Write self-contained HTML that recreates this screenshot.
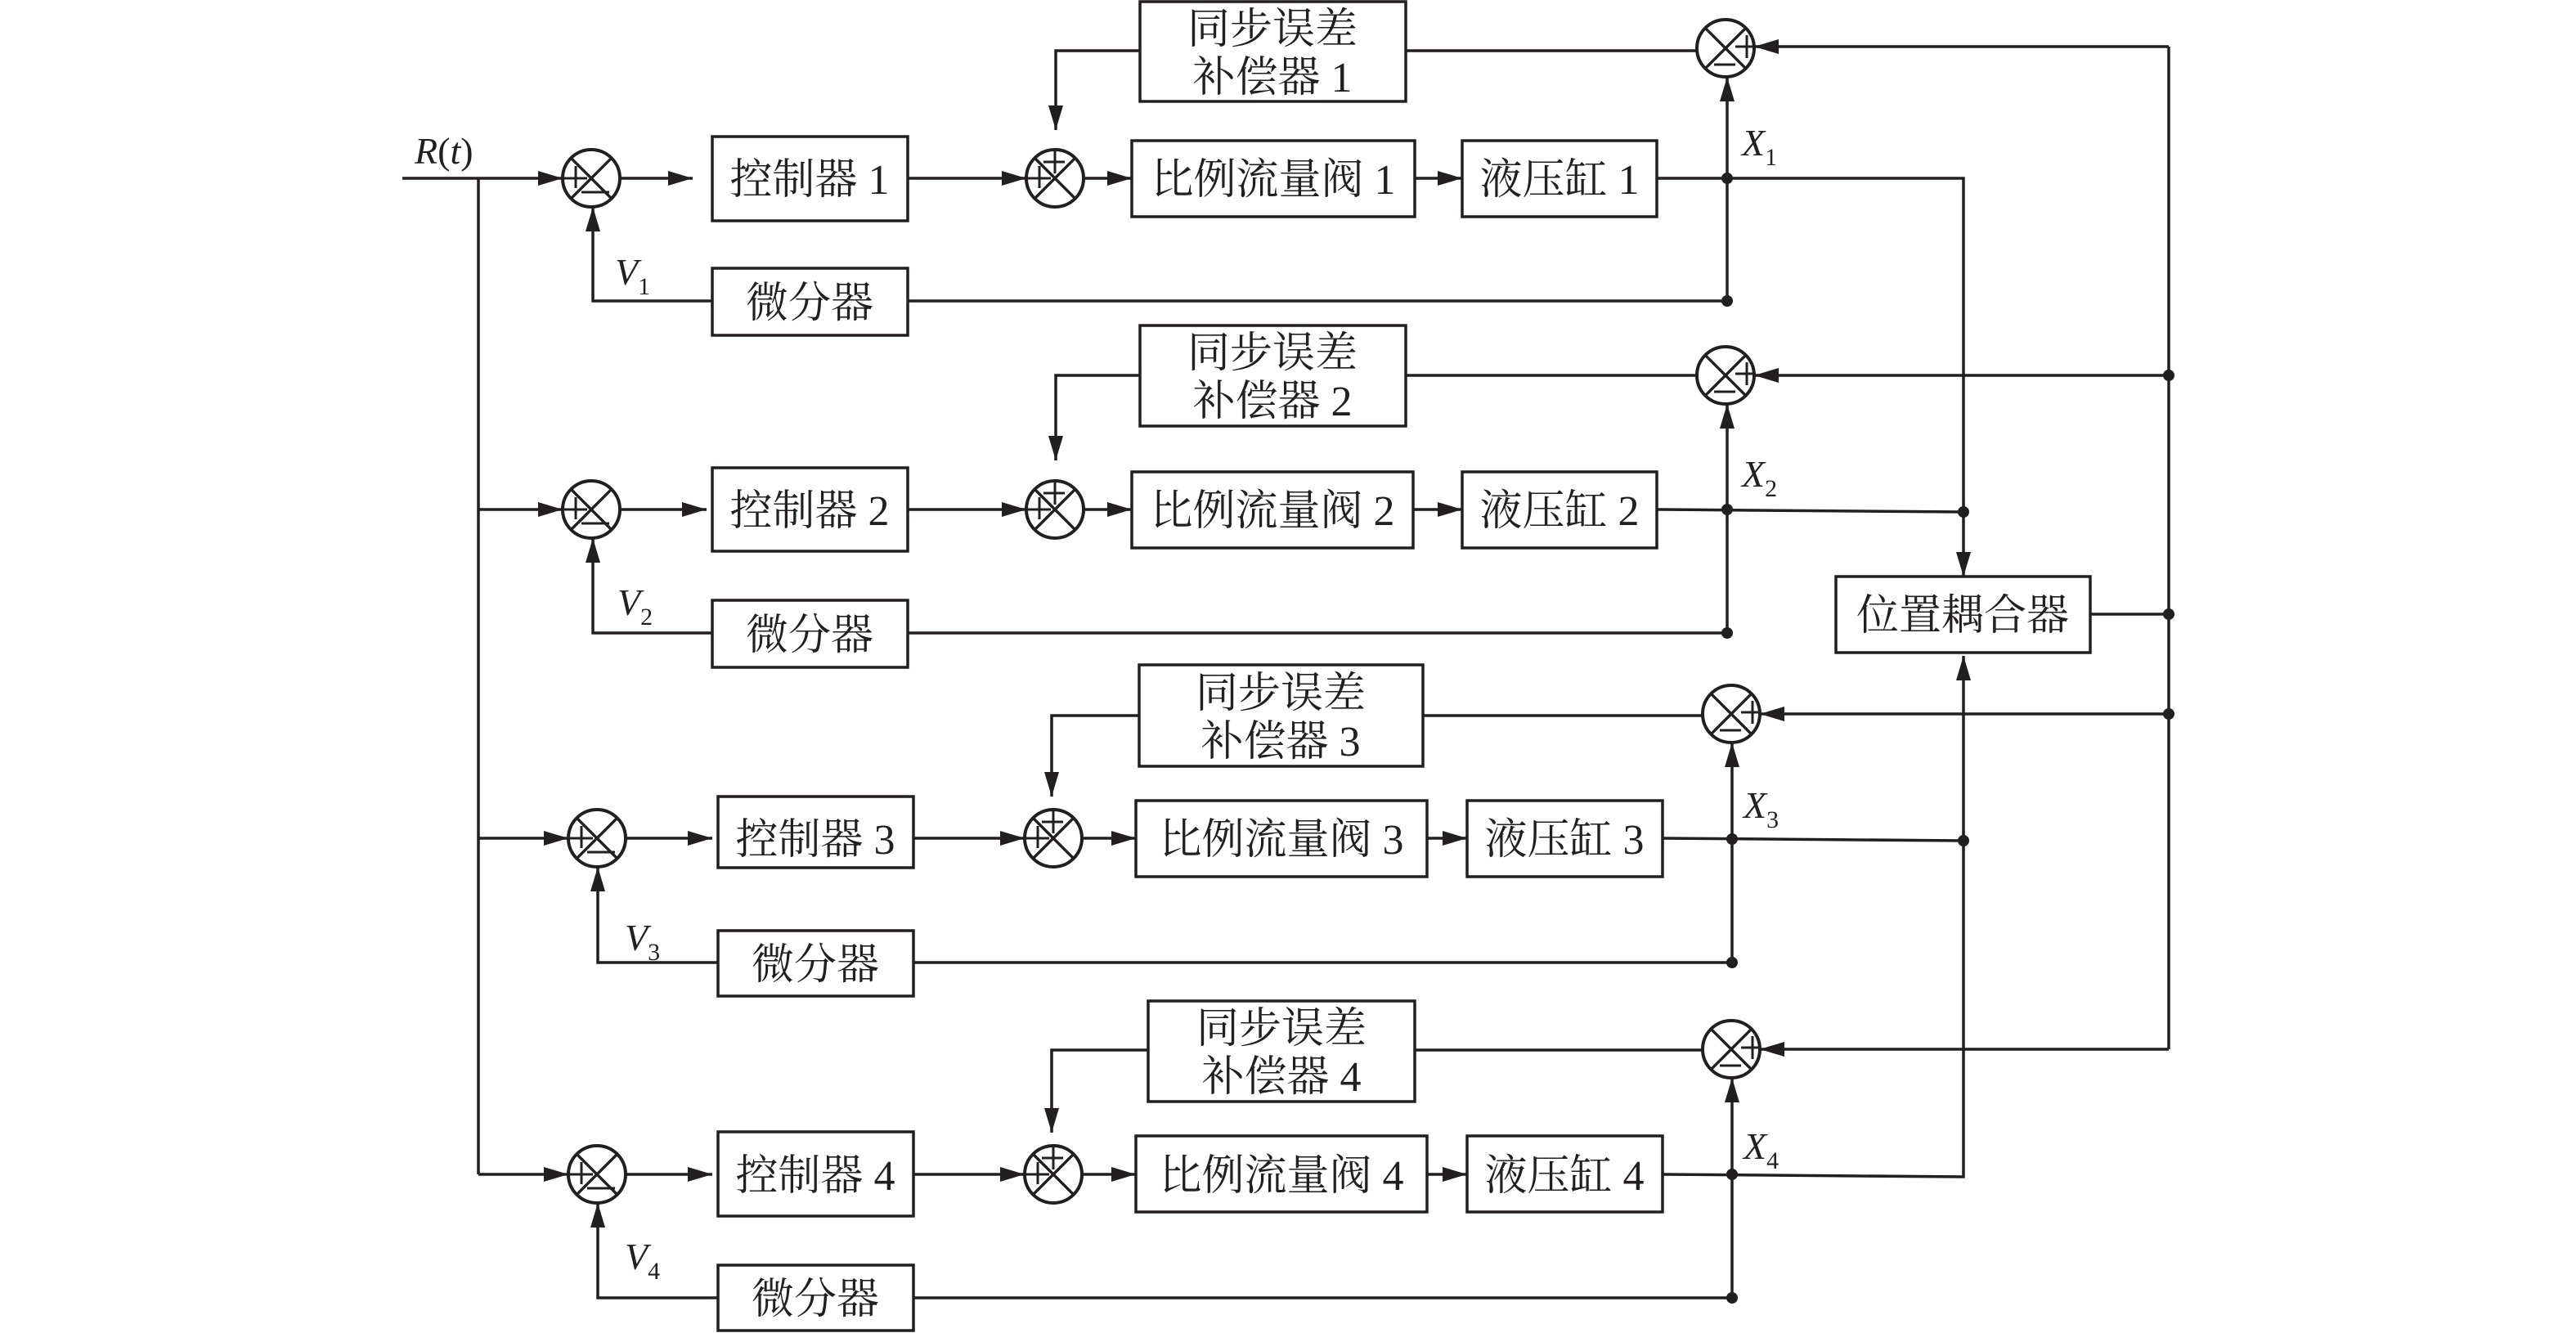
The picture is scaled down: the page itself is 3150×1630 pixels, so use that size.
<!DOCTYPE html>
<html><head><meta charset="utf-8"><style>
html,body{margin:0;padding:0;background:#fff;}
svg{display:block;}
.t{font-family:"Liberation Serif","Noto Serif CJK SC",serif;font-size:52px;fill:#231f20;text-anchor:middle;}
.i{font-family:"Liberation Serif",serif;font-style:italic;font-size:46px;fill:#231f20;}
.s{font-family:"Liberation Serif",serif;font-style:normal;font-size:30px;fill:#231f20;}
</style></head><body>
<svg width="3150" height="1630" viewBox="0 0 3150 1630" xmlns="http://www.w3.org/2000/svg">
<defs>
<marker id="a" markerWidth="30" markerHeight="18" refX="30" refY="9" orient="auto" markerUnits="userSpaceOnUse"><path d="M0,0 L30,9 L0,18 z" fill="#231f20"/></marker>
<g id="cx"><circle r="35" fill="#fff" stroke="#231f20" stroke-width="4"/><path d="M-24.7,-24.7L24.7,24.7M24.7,-24.7L-24.7,24.7" stroke="#231f20" stroke-width="3.5"/></g>
<g id="s1"><use href="#cx"/><path d="M-35,0H-5M-19,-15V12M-12,17H22" stroke="#231f20" stroke-width="3"/></g>
<g id="s2"><use href="#cx"/><path d="M-35,0H-5M-19,-15V12M-14,-20H12M0,-35V-6" stroke="#231f20" stroke-width="3"/></g>
<g id="s3"><use href="#cx"/><path d="M12,-2H35M26,-16V12M-14,20H12" stroke="#231f20" stroke-width="3"/></g>
</defs>
<g fill="none" stroke="#231f20" stroke-width="3.5">
<rect x="871" y="167" width="239" height="103"/>
<rect x="871" y="328" width="239" height="82"/>
<rect x="1394" y="2" width="325" height="122"/>
<rect x="1384" y="172" width="346" height="93"/>
<rect x="1788" y="172" width="238" height="93"/>

<rect x="871" y="572" width="239" height="102"/>
<rect x="871" y="734" width="239" height="82"/>
<rect x="1394" y="398" width="325" height="123"/>
<rect x="1384" y="577" width="344" height="93"/>
<rect x="1788" y="577" width="238" height="93"/>

<rect x="878" y="974" width="239" height="87"/>
<rect x="878" y="1138" width="239" height="80"/>
<rect x="1393" y="813" width="347" height="124"/>
<rect x="1389" y="979" width="356" height="93"/>
<rect x="1794" y="979" width="239" height="93"/>

<rect x="878" y="1384" width="239" height="103"/>
<rect x="878" y="1547" width="239" height="80"/>
<rect x="1404" y="1224" width="326" height="123"/>
<rect x="1389" y="1389" width="356" height="93"/>
<rect x="1794" y="1389" width="239" height="93"/>

<rect x="2245" y="705" width="311" height="93"/>
</g>
<g fill="none" stroke="#231f20" stroke-width="3.5">
<path d="M492,218H688" marker-end="url(#a)"/>
<path d="M585,218V1436"/>
<path d="M585,623H688" marker-end="url(#a)"/>
<path d="M585,1025H695" marker-end="url(#a)"/>
<path d="M585,1436H695" marker-end="url(#a)"/>
<path d="M758,218H847" marker-end="url(#a)"/>
<path d="M1110,218H1255" marker-end="url(#a)"/>
<path d="M1325,218H1384" marker-end="url(#a)"/>
<path d="M1730,218H1788" marker-end="url(#a)"/>
<path d="M1394,62H1291V159" marker-end="url(#a)"/>
<path d="M1719,62H2075"/>
<path d="M871,368H725V253" marker-end="url(#a)"/>
<path d="M1110,368H2112V94" marker-end="url(#a)"/>
<path d="M2026,218H2401V705" marker-end="url(#a)"/>
<path d="M758,623H864" marker-end="url(#a)"/>
<path d="M1110,623H1255" marker-end="url(#a)"/>
<path d="M1325,623H1384" marker-end="url(#a)"/>
<path d="M1728,623H1788" marker-end="url(#a)"/>
<path d="M1394,459H1291V563" marker-end="url(#a)"/>
<path d="M1719,459H2075"/>
<path d="M871,774H725V658" marker-end="url(#a)"/>
<path d="M1110,774H2112V494" marker-end="url(#a)"/>
<path d="M2026,623L2401,626"/>
<path d="M765,1025H871" marker-end="url(#a)"/>
<path d="M1117,1025H1253" marker-end="url(#a)"/>
<path d="M1323,1025H1389" marker-end="url(#a)"/>
<path d="M1745,1025H1794" marker-end="url(#a)"/>
<path d="M1393,875H1286V974" marker-end="url(#a)"/>
<path d="M1740,875H2082"/>
<path d="M878,1177H731V1060" marker-end="url(#a)"/>
<path d="M1117,1177H2118V908" marker-end="url(#a)"/>
<path d="M2033,1025L2401,1028"/>
<path d="M765,1436H871" marker-end="url(#a)"/>
<path d="M1117,1436H1253" marker-end="url(#a)"/>
<path d="M1323,1436H1389" marker-end="url(#a)"/>
<path d="M1745,1436H1794" marker-end="url(#a)"/>
<path d="M1404,1284H1286V1385" marker-end="url(#a)"/>
<path d="M1730,1284H2082"/>
<path d="M878,1587H731V1471" marker-end="url(#a)"/>
<path d="M1117,1587H2118V1318" marker-end="url(#a)"/>
<path d="M2033,1436L2401,1439V802" marker-end="url(#a)"/>
<path d="M2652,57V1283"/>
<path d="M2652,57H2145" marker-end="url(#a)"/>
<path d="M2652,459H2145" marker-end="url(#a)"/>
<path d="M2652,873H2152" marker-end="url(#a)"/>
<path d="M2652,1283H2152" marker-end="url(#a)"/>
<path d="M2556,751H2652"/>
</g>
<use href="#s1" x="723" y="218"/>
<use href="#s1" x="723" y="623"/>
<use href="#s1" x="730" y="1025"/>
<use href="#s1" x="730" y="1436"/>
<use href="#s2" x="1290" y="218"/>
<use href="#s2" x="1290" y="623"/>
<use href="#s2" x="1288" y="1025"/>
<use href="#s2" x="1288" y="1436"/>
<use href="#s3" x="2110" y="59"/>
<use href="#s3" x="2110" y="459"/>
<use href="#s3" x="2117" y="873"/>
<use href="#s3" x="2117" y="1283"/>
<g fill="#231f20">
<circle cx="2112" cy="218" r="7"/><circle cx="2112" cy="368" r="7"/>
<circle cx="2112" cy="623" r="7"/><circle cx="2112" cy="774" r="7"/>
<circle cx="2118" cy="1026" r="7"/><circle cx="2118" cy="1177" r="7"/>
<circle cx="2118" cy="1436" r="7"/><circle cx="2118" cy="1587" r="7"/>
<circle cx="2401" cy="626" r="7"/><circle cx="2401" cy="1028" r="7"/>
<circle cx="2652" cy="459" r="7"/><circle cx="2652" cy="751" r="7"/><circle cx="2652" cy="873" r="7"/>
</g>
<text class="t" x="990" y="237">控制器 1</text>
<text class="t" x="990" y="388">微分器</text>
<text class="t" x="1556" y="53">同步误差</text>
<text class="t" x="1556" y="112">补偿器 1</text>
<text class="t" x="1557" y="237">比例流量阀 1</text>
<text class="t" x="1907" y="237">液压缸 1</text>

<text class="t" x="990" y="642">控制器 2</text>
<text class="t" x="990" y="794">微分器</text>
<text class="t" x="1556" y="449">同步误差</text>
<text class="t" x="1556" y="508">补偿器 2</text>
<text class="t" x="1556" y="642">比例流量阀 2</text>
<text class="t" x="1907" y="642">液压缸 2</text>

<text class="t" x="997" y="1044">控制器 3</text>
<text class="t" x="997" y="1197">微分器</text>
<text class="t" x="1566" y="865">同步误差</text>
<text class="t" x="1566" y="924">补偿器 3</text>
<text class="t" x="1567" y="1044">比例流量阀 3</text>
<text class="t" x="1913" y="1044">液压缸 3</text>

<text class="t" x="997" y="1455">控制器 4</text>
<text class="t" x="997" y="1606">微分器</text>
<text class="t" x="1567" y="1275">同步误差</text>
<text class="t" x="1567" y="1334">补偿器 4</text>
<text class="t" x="1567" y="1455">比例流量阀 4</text>
<text class="t" x="1913" y="1455">液压缸 4</text>

<text class="t" x="2400" y="770">位置耦合器</text>

<text class="i" x="507" y="200">R<tspan font-style="normal">(</tspan>t<tspan font-style="normal">)</tspan></text>
<text class="i" x="752" y="348">V<tspan class="s" dy="12">1</tspan></text>
<text class="i" x="755" y="752">V<tspan class="s" dy="12">2</tspan></text>
<text class="i" x="764" y="1162">V<tspan class="s" dy="12">3</tspan></text>
<text class="i" x="764" y="1552">V<tspan class="s" dy="12">4</tspan></text>
<text class="i" x="2130" y="190">X<tspan class="s" dy="12">1</tspan></text>
<text class="i" x="2130" y="595">X<tspan class="s" dy="12">2</tspan></text>
<text class="i" x="2132" y="1000">X<tspan class="s" dy="12">3</tspan></text>
<text class="i" x="2132" y="1417">X<tspan class="s" dy="12">4</tspan></text>
</svg>
</body></html>
